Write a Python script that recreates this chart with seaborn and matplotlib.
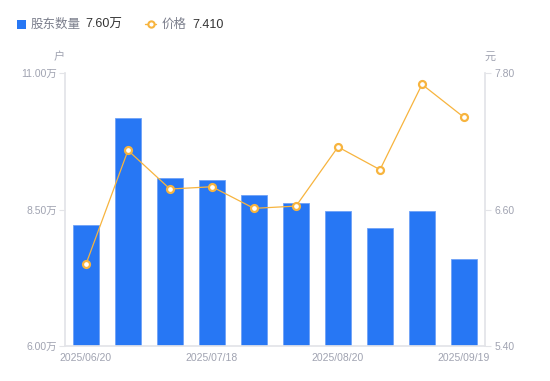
import numpy as np
import pandas as pd
import matplotlib
matplotlib.use("Agg")
import matplotlib.pyplot as plt
from matplotlib.lines import Line2D
from matplotlib.patches import Rectangle
import seaborn as sns

# ---- data ----
dates = ["2025/06/20", "2025/06/30", "2025/07/10", "2025/07/18", "2025/07/31",
         "2025/08/08", "2025/08/20", "2025/08/29", "2025/09/10", "2025/09/19"]
holders_wan = [8.21, 10.18, 9.08, 9.04, 8.77, 8.62, 8.48, 8.16, 8.48, 7.60]
price = [6.12, 7.12, 6.78, 6.80, 6.61, 6.63, 7.15, 6.95, 7.70, 7.41]
shown_ticks = ["2025/06/20", "2025/07/18", "2025/08/20", "2025/09/19"]
left_ticks = [6.00, 8.50, 11.00]
right_ticks = [5.40, 6.60, 7.80]

BLUE = "#2777F4"
ORANGE = "#F7B43E"
GRAY = "#A0A3B1"
AXC = "#E3E4E8"
FAM = ["Liberation Sans", "Noto Sans CJK SC", "DejaVu Sans"]

sns.set_theme(style="white")
plt.rcParams["font.family"] = FAM

df = pd.DataFrame({"date": dates, "holders": holders_wan, "price": price,
                   "pos": np.arange(len(dates))})

fig = plt.figure(figsize=(5.5, 3.81), dpi=100)
ax = fig.add_axes([65/550, 35/381, 420/550, 273/381])

sns.barplot(data=df, x="date", y="holders", ax=ax, color=BLUE, width=0.6,
            saturation=1, edgecolor="#6FA2F7", linewidth=0.6)
ax.set_ylim(left_ticks[0], left_ticks[-1])
ax.set_xlim(-0.5, len(dates) - 0.5)
ax.set_yticks(left_ticks)
ax.set_yticklabels([f"{v:.2f}万" for v in left_ticks])
ax.set_xticks([dates.index(d) for d in shown_ticks])
ax.set_xticklabels(shown_ticks)
ax.set_xlabel("")
ax.set_ylabel("")

ax2 = ax.twinx()
sns.lineplot(data=df, x="pos", y="price", ax=ax2, color=ORANGE, linewidth=0.9,
             marker="o", markersize=5, markerfacecolor="white",
             markeredgecolor=ORANGE, markeredgewidth=1.6)
ax2.set_ylim(right_ticks[0], right_ticks[-1])
ax2.set_xlim(-0.5, len(dates) - 0.5)
ax2.set_yticks(right_ticks)
ax2.set_yticklabels([f"{v:.2f}" for v in right_ticks])
ax2.set_xlabel("")
ax2.set_ylabel("")

for a in (ax, ax2):
    for s in a.spines.values():
        s.set_visible(False)
    a.grid(False)

ax.spines["left"].set_visible(True)
ax.spines["left"].set_color(AXC)
ax.spines["bottom"].set_visible(True)
ax.spines["bottom"].set_color(AXC)
ax2.spines["right"].set_visible(True)
ax2.spines["right"].set_color(AXC)

ax.tick_params(axis="y", colors=GRAY, labelsize=7.5, length=4, width=0.8,
               color=AXC, pad=2, left=True)
ax.tick_params(axis="x", colors=GRAY, labelsize=7.5, length=0, pad=5)
ax2.tick_params(axis="y", colors=GRAY, labelsize=7.5, length=4, width=0.8,
                color=AXC, pad=3, right=True)
for lab in ax.get_yticklabels() + ax.get_xticklabels() + ax2.get_yticklabels():
    lab.set_color(GRAY)

fig.text(59/550, 1 - 57/381, "户", color=GRAY, fontsize=8, ha="center", va="center")
fig.text(490/550, 1 - 57/381, "元", color=GRAY, fontsize=8, ha="center", va="center")

# legend
fig.patches.append(Rectangle((17/550, 1 - 29/381), 9/550, 9/381,
                             transform=fig.transFigure, facecolor=BLUE,
                             edgecolor="none"))
fig.text(31/550, 1 - 24.5/381, "股东数量", color="#7B7E8C", fontsize=9, va="center")
fig.text(85/550, 1 - 24.5/381, f"{holders_wan[-1]:.2f}万", color="#333333",
         fontsize=9, va="center")
fig.lines.append(Line2D([145/550, 156/550], [1 - 24/381, 1 - 24/381],
                        transform=fig.transFigure, color=ORANGE, linewidth=1))
fig.lines.append(Line2D([150.5/550], [1 - 24/381], transform=fig.transFigure,
                        marker="o", markersize=4.5, markerfacecolor="white",
                        markeredgecolor=ORANGE, markeredgewidth=1.5))
fig.text(162/550, 1 - 24.5/381, "价格", color="#7B7E8C", fontsize=9, va="center")
fig.text(192/550, 1 - 24.5/381, f"{price[-1]:.3f}", color="#333333",
         fontsize=9, va="center")

fig.savefig("out.png", dpi=100)
